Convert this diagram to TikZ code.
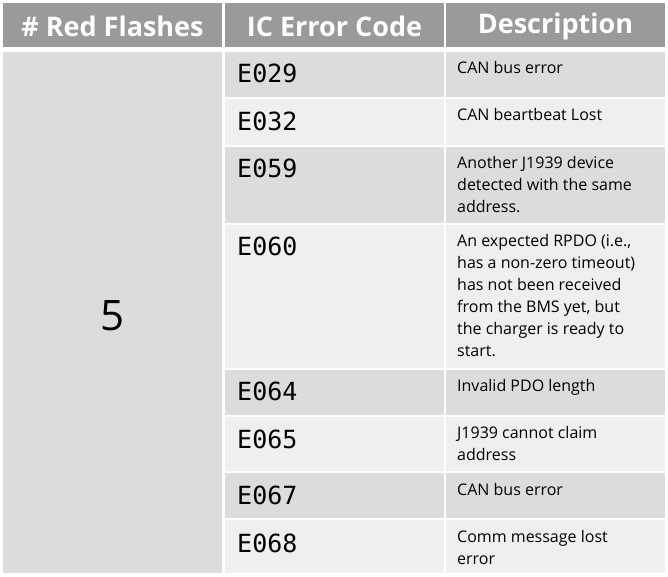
\documentclass[tikz,border=0pt]{standalone}
\usepackage{fontspec}
\setmainfont{Open Sans}
\newfontfamily\codefont{DejaVu Sans Mono}
\definecolor{headgray}{HTML}{9A9A9A}
\definecolor{rowdark}{HTML}{DCDCDC}
\definecolor{rowlight}{HTML}{EFEFEF}
\begin{document}
\begin{tikzpicture}[x=1pt,y=-1pt]
    %
    % `head' is the header text, `code' the error codes, `desc' the descriptions.
    \tikzstyle{head} = [font=\fontsize{27}{30}\selectfont\bfseries,text=white,inner sep=0pt]
    \tikzstyle{code} = [font=\codefont\fontsize{25}{28}\selectfont,anchor=north west,inner sep=0pt]
    \tikzstyle{desc} = [font=\fontsize{16}{22}\selectfont,anchor=north west,inner sep=0pt,align=left]
    %
    % Background
    \fill[white] (0,0) rectangle (668,576);
    \useasboundingbox (0,0) rectangle (668,576);
    %
    % Header
    \fill[headgray] (3,3) rectangle (222,47);
    \fill[headgray] (225,3) rectangle (444,47);
    \fill[headgray] (446,3) rectangle (665,47);
    \node[head] (h1) at (112.5,26) {\# Red Flashes};
    \node[head] (h2) at (334.5,26) {IC Error Code};
    \node[head] (h3) at (555.5,26) {Description};
    %
    % First column
    \fill[rowdark] (3,52) rectangle (222,573);
    \node[font=\fontsize{42}{46}\selectfont] (n5) at (113,316) {5};
    %
    % Rows
    \foreach \i/\top/\bot/\col in {1/52/97/rowdark,2/99/145/rowlight,3/147/223/rowdark,
        4/225/368/rowlight,5/370/415/rowdark,6/417/471/rowlight,7/473/518/rowdark,8/520/573/rowlight} {
        \fill[\col] (225,\top) rectangle (444,\bot);
        \fill[\col] (446,\top) rectangle (665,\bot);
    }
    %
    % Codes
    \node[code] (c1) at (237,64) {E029};
    \node[code] (c2) at (237,112) {E032};
    \node[code] (c3) at (237,159) {E059};
    \node[code] (c4) at (237,237) {E060};
    \node[code] (c5) at (237,382) {E064};
    \node[code] (c6) at (237,430) {E065};
    \node[code] (c7) at (237,486) {E067};
    \node[code] (c8) at (237,534) {E068};
    %
    % Descriptions
    \node[desc] (d1) at (457,61) {CAN bus error};
    \node[desc] (d2) at (457,108) {CAN beartbeat Lost};
    \node[desc] (d3) at (457,156) {Another J1939 device\\detected with the same\\address.};
    \node[desc] (d4) at (457,234) {An expected RPDO (i.e.,\\has a non-zero timeout)\\has not been received\\from the BMS yet, but\\the charger is ready to\\start.};
    \node[desc] (d5) at (457,379) {Invalid PDO length};
    \node[desc] (d6) at (457,426) {J1939 cannot claim\\address};
    \node[desc] (d7) at (457,483) {CAN bus error};
    \node[desc] (d8) at (457,530) {Comm message lost\\error};
    %
\end{tikzpicture}
\end{document}
